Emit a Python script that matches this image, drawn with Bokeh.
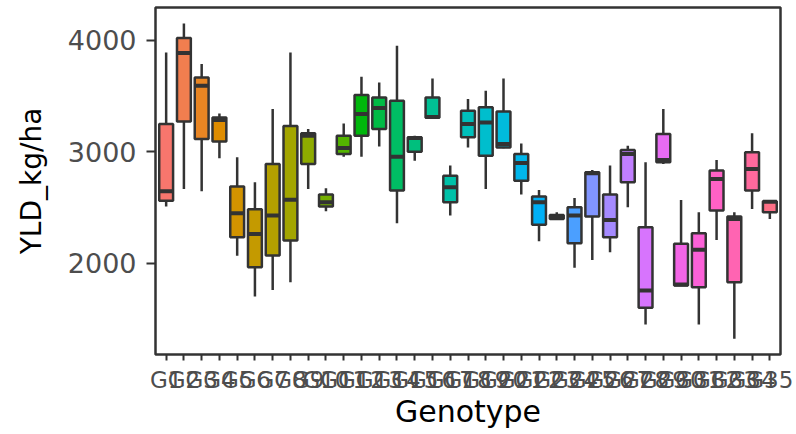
import math
from bokeh.plotting import figure
from bokeh.models import ColumnDataSource, Range1d, FixedTicker
from bokeh.transform import dodge
from bokeh.embed import file_html
from bokeh.resources import INLINE

# ---- data ----
genotypes = ["G%d" % i for i in range(1, 36)]
ymin = [2508, 2666, 2645, 2940, 2066, 1702, 1761, 1830, 2666, 2465,
        2955, 2955, 3047, 2358, 2919, 3305, 2427, 3038, 2666, 3030,
        2615, 2197, 2397, 1959, 2030, 2098, 2501, 1451, 2890, 1800,
        1451, 2209, 1323, 2487, 2397]
q1 = [2561, 3271, 3114, 3092, 2233, 1964, 2069, 2203, 2890, 2508,
      2979, 3143, 3203, 2651, 3000, 3305, 2546, 3128, 2964, 3038,
      2740, 2344, 2397, 2179, 2418, 2233, 2725, 1601, 2904, 1800,
      1785, 2472, 1830, 2651, 2456]
median = [2645, 3884, 3591, 3284, 2448, 2263, 2427, 2570, 3143, 2546,
          3033, 3337, 3391, 2955, 3123, 3310, 2680, 3248, 3262, 3069,
          2899, 2546, 2412, 2427, 2806, 2388, 2979, 1756, 2926, 1809,
          2120, 2755, 2397, 2845, 2552]
q3 = [3248, 4018, 3665, 3307, 2687, 2483, 2890, 3230, 3164, 2615,
      3143, 3508, 3486, 3457, 3128, 3486, 2785, 3367, 3397, 3361,
      2979, 2597, 2433, 2501, 2815, 2615, 3015, 2322, 3158, 2174,
      2268, 2830, 2418, 2994, 2555]
ymax = [3889, 4149, 3785, 3343, 2949, 2725, 3382, 3889, 3203, 2671,
        3253, 3671, 3620, 3949, 3143, 3656, 2875, 3472, 3546, 3656,
        3074, 2657, 2456, 2585, 2836, 2875, 3054, 2904, 3382, 2567,
        2456, 2926, 2456, 3164, 2561]
y_ticks = [2000, 3000, 4000]


# ggplot2-like hue palette (HCL, l=65, c=100)
def hcl_hex(h, c=100.0, l=65.0):
    xn, yn, zn = 95.047, 100.0, 108.883
    un = 4 * xn / (xn + 15 * yn + 3 * zn)
    vn = 9 * yn / (xn + 15 * yn + 3 * zn)
    u = c * math.cos(math.radians(h))
    v = c * math.sin(math.radians(h))
    Y = yn * ((l + 16) / 116) ** 3 if l > 8 else yn * l / 903.3
    up = u / (13 * l) + un
    vp = v / (13 * l) + vn
    X = 9.0 * Y * up / (4 * vp)
    Z = -X / 3 - 5 * Y + 3 * Y / vp
    X, Y, Z = X / 100, Y / 100, Z / 100
    r = 3.240479 * X - 1.537150 * Y - 0.498535 * Z
    g = -0.969256 * X + 1.875992 * Y + 0.041556 * Z
    b = 0.055648 * X - 0.204043 * Y + 1.057311 * Z

    def gam(t):
        t = 12.92 * t if t <= 0.0031308 else 1.055 * t ** (1 / 2.4) - 0.055
        return int(round(255 * min(1.0, max(0.0, t))))
    return "#%02X%02X%02X" % (gam(r), gam(g), gam(b))


n = len(genotypes)
colors = [hcl_hex(15 + i * 360.0 / n) for i in range(n)]
xpos = list(range(1, n + 1))

src = ColumnDataSource(dict(x=xpos, g=genotypes, lo=ymin, q1=q1, med=median,
                            q3=q3, hi=ymax, col=colors))

FONT = "DejaVu Sans"
EDGE = "#333333"
BW = 0.78

p = figure(width=796, height=434, output_backend="svg", toolbar_location=None,
           x_range=Range1d(0.4, n + 0.6), y_range=Range1d(1182, 4292),
           frame_width=625, frame_height=347,
           min_border_left=155, min_border_right=16, min_border_top=7,
           min_border_bottom=80)
p.background_fill_color = "white"
p.border_fill_color = "white"
p.outline_line_color = EDGE
p.outline_line_width = 2.5
p.xgrid.visible = False
p.ygrid.visible = False

p.segment(x0="x", x1="x", y0="lo", y1="hi", source=src,
          line_color=EDGE, line_width=2.5)
p.vbar(x="x", width=BW, bottom="q1", top="q3", source=src,
       fill_color="col", line_color=EDGE, line_width=2.5)
p.segment(x0=dodge("x", -BW / 2), x1=dodge("x", BW / 2), y0="med", y1="med",
          source=src, line_color=EDGE, line_width=4)

xa = p.xaxis[0]
xa.ticker = FixedTicker(ticks=xpos)
xa.major_label_overrides = {x: g for x, g in zip(xpos, genotypes)}
ya = p.yaxis[0]
ya.ticker = FixedTicker(ticks=y_ticks)

for ax in (xa, ya):
    ax.axis_line_color = None
    ax.minor_tick_line_color = None
    ax.major_tick_line_color = EDGE
    ax.major_tick_line_width = 2
    ax.major_tick_in = 0
    ax.major_label_text_font = FONT
    ax.major_label_text_color = "#4D4D4D"
    ax.axis_label_text_font = FONT
    ax.axis_label_text_font_style = "normal"
    ax.axis_label_text_color = "black"

xa.axis_label = "Genotype"
ya.axis_label = "YLD_kg/ha"
xa.major_tick_out = 6
ya.major_tick_out = 9
xa.major_label_text_font_size = "23px"
ya.major_label_text_font_size = "27px"
xa.axis_label_text_font_size = "30px"
ya.axis_label_text_font_size = "28px"
xa.major_label_standoff = 6
ya.major_label_standoff = 10
xa.axis_label_standoff = -2
ya.axis_label_standoff = 17

open("out.html", "w").write(file_html(p, INLINE))
